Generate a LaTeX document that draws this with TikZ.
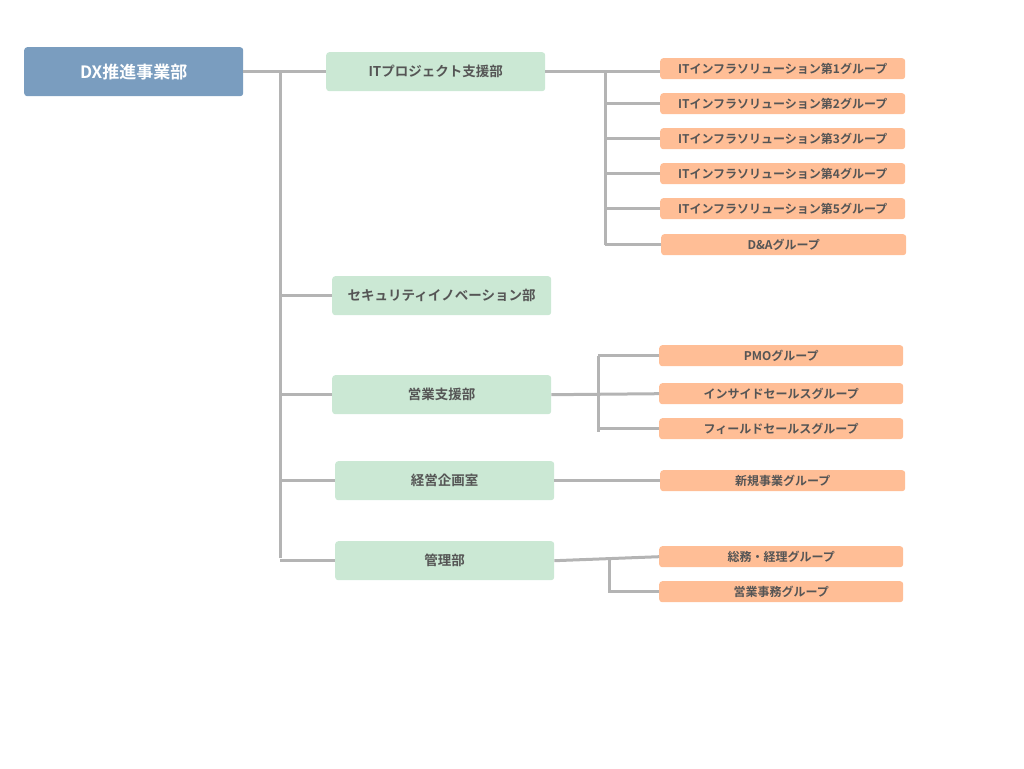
\documentclass[tikz,border=0pt]{standalone}
\usepackage{fontspec}
\setmainfont{Noto Sans CJK JP}[BoldFont={* Bold}]
\definecolor{root}{HTML}{7A9DBF}
\definecolor{dept}{HTML}{CBE8D4}
\definecolor{grp}{HTML}{FFBE96}
\definecolor{wire}{HTML}{B4B4B4}
\definecolor{ink}{HTML}{555555}
\tikzset{
	box/.style = {rounded corners=3pt, inner sep=0pt, anchor=north west, font=\bfseries, text=ink},
	rootbox/.style = {box, fill=root, text=white, minimum width=219pt, minimum height=49pt, font=\bfseries\fontsize{17}{17}\selectfont},
	deptbox/.style = {box, fill=dept, minimum width=219pt, minimum height=39pt, font=\bfseries\fontsize{13.5}{14}\selectfont},
	grpbox/.style = {box, fill=grp, minimum width=245pt, minimum height=21pt, font=\bfseries\fontsize{12}{12}\selectfont},
	link/.style = {draw=wire, line width=3pt}
}
\begin{document}
\begin{tikzpicture}[x=1pt, y=-1pt]
	
	\useasboundingbox (0,0) rectangle (1024,768);
	
	\node[rootbox] (dx) at (24,47) {DX推進事業部};
	
	\node[deptbox] (itp) at (326,52) {ITプロジェクト支援部};
	\node[deptbox] (sec) at (332,276) {セキュリティイノベーション部};
	\node[deptbox] (sales) at (332,375) {営業支援部};
	\node[deptbox] (plan) at (335,461) {経営企画室};
	\node[deptbox] (adm) at (335,541) {管理部};
	
	\foreach \i/\y in {1/58, 2/93, 3/128, 4/163, 5/198}
		\node[grpbox] (it\i) at (660,\y) {ITインフラソリューション第\i グループ};
	\node[grpbox] (da) at (661,234) {D\&Aグループ};
	\node[grpbox, minimum width=244pt] (pmo) at (659,345) {PMOグループ};
	\node[grpbox, minimum width=244pt] (ins) at (659,383) {インサイドセールスグループ};
	\node[grpbox, minimum width=244pt] (fld) at (659,418) {フィールドセールスグループ};
	\node[grpbox] (new) at (660,470) {新規事業グループ};
	\node[grpbox, minimum width=244pt] (gen) at (659,546) {総務・経理グループ};
	\node[grpbox, minimum width=244pt] (off) at (659,581) {営業事務グループ};
	
	% main trunk
	\coordinate (t0) at (280,71);
	\coordinate (t1) at (280,558);
	\draw[link] (dx.east |- t0) -- (itp.west |- t0);
	\draw[link] (t0) -- (t1);
	\foreach \d in {sec, sales, plan, adm}
		\draw[link] (\d.west) -- (\d.west -| t0);
	
	% IT branch
	\coordinate (a0) at (605,71);
	\coordinate (a1) at (605,245);
	\draw[link] (itp.east |- a0) -- (it1.west |- a0);
	\draw[link] (a0) -- (a1);
	\foreach \g in {it2, it3, it4, it5, da}
		\draw[link] (\g.west) -- (\g.west -| a0);
	
	% sales branch
	\coordinate (b0) at (598,356);
	\coordinate (b1) at (598,432);
	\draw[link] (sales.east) -- (ins.west);
	\draw[link] (b0) -- (b1);
	\draw[link] (pmo.west) -- (pmo.west -| b0);
	\draw[link] (fld.west) -- (fld.west -| b0);
	
	\draw[link] (plan.east) -- (new.west);
	
	% admin branch
	\coordinate (c0) at (609,557);
	\draw[link] (adm.east) -- (gen.west);
	\draw[link] (c0) |- (off.west);
	
\end{tikzpicture}
\end{document}
